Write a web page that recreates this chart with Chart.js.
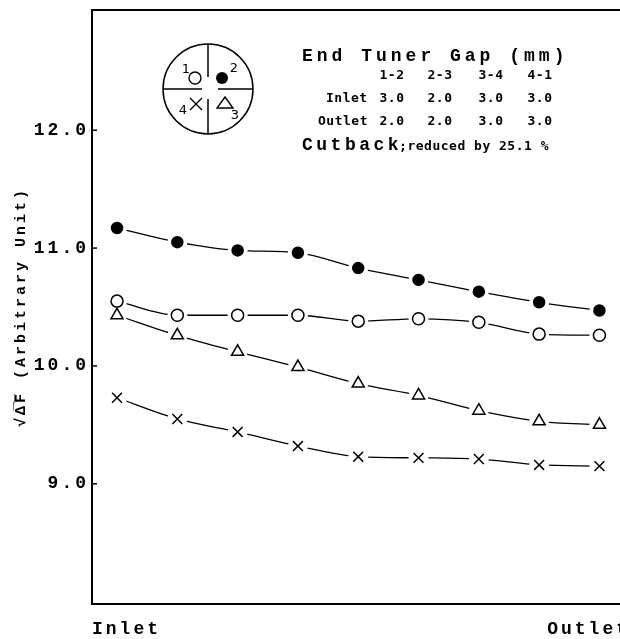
<!DOCTYPE html>
<html>
<head>
<meta charset="utf-8">
<script src="https://cdn.jsdelivr.net/npm/chart.js@4.4.0/dist/chart.umd.min.js"></script>
<style>
    html, body { margin: 0; padding: 0; background: #fff; overflow: hidden; }
    #wrap { width: 640px; height: 639px; }
</style>
</head>
<body>
<div id="wrap"><canvas id="grafico" width="640" height="639"></canvas></div>
<script>
// Posições de medição (Inlet -> Outlet)
const posicoes = [0, 1, 2, 3, 4, 5, 6, 7, 8];

// Valores, um por tap
const tap1 = [10.55, 10.43, 10.43, 10.43, 10.38, 10.40, 10.37, 10.27, 10.26]; // ○
const tap2 = [11.17, 11.05, 10.98, 10.96, 10.83, 10.73, 10.63, 10.54, 10.47]; // ●
const tap3 = [10.43, 10.26, 10.12, 9.99, 9.85, 9.75, 9.62, 9.53, 9.50];      // △
const tap4 = [9.73, 9.55, 9.44, 9.32, 9.23, 9.22, 9.21, 9.16, 9.15];         // ×

// Eixos
const yTicks = [9.0, 10.0, 11.0, 12.0];
const xRotulos = ["Inlet", "Outlet"];

// Tabela do canto
const gapPares = ["1-2", "2-3", "3-4", "4-1"];
const gapInlet = [3.0, 2.0, 3.0, 3.0];
const gapOutlet = [2.0, 2.0, 3.0, 3.0];
const cutback = 25.1;

const X_MIN = -0.415, X_MAX = 8.507;
const Y_MIN = 7.98, Y_MAX = 13.02;

function pontos(valores) {
    return valores.map((v, i) => ({ x: posicoes[i], y: v }));
}

const series = [
    { dados: tap1, estilo: "circle", raio: 6, fundo: "#fff" },
    { dados: tap2, estilo: "circle", raio: 5.5, fundo: "#000" },
    { dados: tap3, estilo: "triangle", raio: 7, fundo: "#fff" },
    { dados: tap4, estilo: "crossRot", raio: 7, fundo: "#fff" }
];

const datasets = [];
series.forEach(s => {
    // linha
    datasets.push({
        data: pontos(s.dados), showLine: true, pointRadius: 0,
        borderColor: "#000", borderWidth: 1.3, cubicInterpolationMode: "monotone", order: 3
    });
    // halo branco (corta a linha perto do marcador)
    datasets.push({
        data: pontos(s.dados), showLine: false, pointRadius: 10, pointStyle: "circle",
        pointBackgroundColor: "#fff", pointBorderWidth: 0, order: 2
    });
    // marcador
    datasets.push({
        data: pontos(s.dados), showLine: false, pointRadius: s.raio, pointStyle: s.estilo,
        pointBackgroundColor: s.fundo, pointBorderColor: "#000", pointBorderWidth: 1.5, order: 1
    });
});

// Espaçamento de letras da máquina de escrever
const espacamento = {
    id: "espacamento",
    beforeDraw(chart) { chart.ctx.letterSpacing = "3px"; },
    afterDraw(chart) { chart.ctx.letterSpacing = "0px"; }
};

// Moldura e ticks internos
const moldura = {
    id: "moldura",
    afterDatasetsDraw(chart) {
        const { ctx, chartArea: a, scales } = chart;
        ctx.save();
        ctx.strokeStyle = "#000";
        ctx.lineWidth = 2;
        ctx.strokeRect(a.left, a.top, a.right - a.left, a.bottom - a.top);
        ctx.lineWidth = 1.5;
        yTicks.forEach(v => {
            const y = scales.y.getPixelForValue(v);
            ctx.beginPath();
            ctx.moveTo(a.left, y);
            ctx.lineTo(a.left + 5, y);
            ctx.stroke();
        });
        ctx.restore();
    }
};

// Diagrama dos taps e tabela de gaps
const anotacao = {
    id: "anotacao",
    afterDraw(chart) {
        const ctx = chart.ctx;
        ctx.save();
        ctx.fillStyle = "#000";
        ctx.strokeStyle = "#000";
        ctx.letterSpacing = "0px";

        const cx = 208, cy = 89, r = 45;
        ctx.lineWidth = 1.5;
        ctx.beginPath();
        ctx.arc(cx, cy, r, 0, Math.PI * 2);
        ctx.stroke();
        ctx.beginPath();
        ctx.moveTo(cx, cy - r); ctx.lineTo(cx, cy - 12);
        ctx.moveTo(cx, cy + 10); ctx.lineTo(cx, cy + r);
        ctx.moveTo(cx - r, cy); ctx.lineTo(cx - 6, cy);
        ctx.moveTo(cx + 10, cy); ctx.lineTo(cx + r, cy);
        ctx.stroke();

        // marcadores dentro do círculo
        ctx.lineWidth = 1.4;
        ctx.beginPath(); ctx.arc(cx - 13, cy - 11, 6, 0, Math.PI * 2); ctx.stroke();
        ctx.beginPath(); ctx.arc(cx + 14, cy - 11, 6, 0, Math.PI * 2); ctx.fill();
        ctx.beginPath();
        ctx.moveTo(cx - 18, cy + 9); ctx.lineTo(cx - 6, cy + 21);
        ctx.moveTo(cx - 6, cy + 9); ctx.lineTo(cx - 18, cy + 21);
        ctx.stroke();
        ctx.beginPath();
        ctx.moveTo(cx + 17, cy + 8); ctx.lineTo(cx + 25, cy + 19); ctx.lineTo(cx + 9, cy + 19);
        ctx.closePath(); ctx.stroke();

        ctx.font = "13px 'DejaVu Sans'";
        ctx.textAlign = "center";
        ctx.textBaseline = "middle";
        ctx.fillText("1", cx - 22, cy - 19);
        ctx.fillText("2", cx + 26, cy - 20);
        ctx.fillText("4", cx - 25, cy + 22);
        ctx.fillText("3", cx + 27, cy + 27);

        // tabela
        const grande = "bold 18px 'Liberation Mono'";
        const pequena = "bold 13px 'DejaVu Sans Mono'";
        const colunas = [392, 440, 491, 540];
        ctx.textAlign = "left";
        ctx.textBaseline = "alphabetic";

        ctx.font = grande;
        ctx.letterSpacing = "4px";
        ctx.fillText("End Tuner Gap (mm)", 302, 61);

        ctx.font = pequena;
        ctx.letterSpacing = "0.5px";
        ctx.textAlign = "center";
        gapPares.forEach((p, i) => ctx.fillText(p, colunas[i], 79));
        gapInlet.forEach((v, i) => ctx.fillText(v.toFixed(1), colunas[i], 102));
        gapOutlet.forEach((v, i) => ctx.fillText(v.toFixed(1), colunas[i], 125));
        ctx.textAlign = "left";
        ctx.fillText("Inlet", 326, 102);
        ctx.fillText("Outlet", 318, 125);

        ctx.font = grande;
        ctx.letterSpacing = "3.5px";
        ctx.fillText("Cutback", 302, 150);
        const w = ctx.measureText("Cutback").width;
        ctx.font = pequena;
        ctx.letterSpacing = "0.5px";
        ctx.fillText(";reduced by " + cutback.toFixed(1) + " %", 302 + w - 3, 150);

        ctx.restore();
    }
};

new Chart(document.getElementById("grafico").getContext("2d"), {
    type: "scatter",
    data: { datasets: datasets },
    options: {
        responsive: false,
        animation: false,
        events: [],
        layout: { padding: { left: 0, top: 7, right: 10, bottom: 0 } },
        plugins: {
            legend: { display: false },
            tooltip: { enabled: false }
        },
        scales: {
            x: {
                type: "linear",
                min: X_MIN,
                max: X_MAX,
                afterFit: s => { s.height = 35; s.paddingLeft = 0; s.paddingRight = 0; },
                afterBuildTicks: s => { s.ticks = [{ value: X_MIN }, { value: X_MAX }]; },
                grid: { display: false },
                border: { display: false },
                ticks: {
                    align: "inner",
                    autoSkip: false,
                    maxRotation: 0,
                    padding: 7,
                    color: "#000",
                    font: { family: "'Liberation Mono'", size: 18, weight: "bold" },
                    callback: (v, i) => xRotulos[i]
                }
            },
            y: {
                min: Y_MIN,
                max: Y_MAX,
                afterFit: s => { s.width = 92; s.paddingTop = 0; s.paddingBottom = 0; },
                afterBuildTicks: s => { s.ticks = yTicks.map(v => ({ value: v })); },
                grid: { display: false, tickLength: 0 },
                border: { display: false },
                ticks: {
                    padding: 3,
                    color: "#000",
                    font: { family: "'Liberation Mono'", size: 18, weight: "bold" },
                    callback: v => v.toFixed(1)
                },
                title: {
                    display: true,
                    text: "\u221A\u0394\u0305F\u0305 (Arbitrary Unit)",
                    color: "#000",
                    padding: { top: 12, bottom: 0 },
                    font: { family: "'Liberation Mono'", size: 15, weight: "bold" }
                }
            }
        }
    },
    plugins: [espacamento, moldura, anotacao]
});
</script>
</body>
</html>
